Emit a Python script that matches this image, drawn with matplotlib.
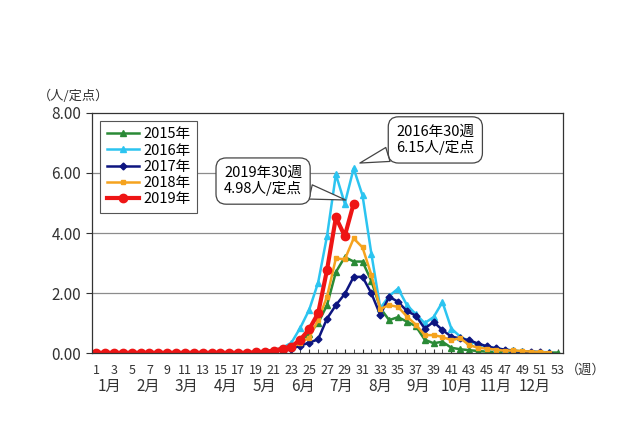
#%% libraries
import matplotlib
matplotlib.use("Agg")
import matplotlib.pyplot as plt
import matplotlib.transforms as mtransforms

plt.rcParams['font.family'] = ['Noto Sans CJK JP', 'DejaVu Sans']

#%% data (人/定点, weekly)
weeks = list(range(1, 54))
flat = [0.01] * 18

y2015 = flat + [0.02, 0.03, 0.05, 0.10, 0.20, 0.40, 0.65, 1.00, 1.60, 2.70,
                3.20, 3.05, 3.05, 2.40, 1.50, 1.10, 1.20, 1.05, 0.90, 0.45,
                0.33, 0.38, 0.18, 0.13, 0.10, 0.07, 0.05, 0.04, 0.03, 0.03,
                0.02, 0.02, 0.02, 0.02, 0.02]
y2016 = flat + [0.03, 0.05, 0.10, 0.18, 0.35, 0.85, 1.45, 2.35, 3.90, 5.95,
                4.98, 6.15, 5.25, 3.30, 1.50, 1.90, 2.15, 1.60, 1.30, 1.00,
                1.20, 1.70, 0.82, 0.55, 0.40, 0.30, 0.22, 0.16, 0.12, 0.09,
                0.06, 0.05, 0.04, 0.03]
y2017 = flat + [0.02, 0.03, 0.06, 0.10, 0.15, 0.25, 0.35, 0.46, 1.15, 1.60,
                1.97, 2.54, 2.54, 1.99, 1.27, 1.88, 1.71, 1.40, 1.25, 0.82,
                1.04, 0.77, 0.55, 0.49, 0.43, 0.32, 0.23, 0.16, 0.12, 0.08,
                0.04, 0.05, 0.03, 0.02]
y2018 = flat + [0.02, 0.04, 0.07, 0.12, 0.20, 0.34, 0.52, 1.10, 1.88, 3.16,
                3.12, 3.82, 3.52, 2.60, 1.47, 1.60, 1.54, 1.22, 0.95, 0.60,
                0.60, 0.54, 0.43, 0.50, 0.27, 0.18, 0.15, 0.12, 0.08, 0.09,
                0.07, 0.05, 0.04, 0.02]
y2019 = flat + [0.03, 0.05, 0.08, 0.15, 0.22, 0.45, 0.80, 1.33, 2.77, 4.52,
                3.90, 4.98]

months = ['1月', '2月', '3月', '4月', '5月', '6月',
          '7月', '8月', '9月', '10月', '11月', '12月']

#%% plot
fig = plt.figure(figsize=(6.4, 4.26), dpi=100)
ax = fig.add_axes([0.144, 0.171, 0.736, 0.564])

series = [
    ('2015年', y2015, '#2a8a36', '^', 4, 1.8),
    ('2016年', y2016, '#2cc4f0', '^', 4, 1.8),
    ('2017年', y2017, '#0d1580', 'D', 3.5, 1.8),
    ('2018年', y2018, '#f5a31e', 's', 3.5, 1.8),
    ('2019年', y2019, '#ee1515', 'o', 6, 3.0),
]
for name, vals, col, mk, ms, lw in series:
    ax.plot(weeks[:len(vals)], vals, color=col, marker=mk, markersize=ms,
            linewidth=lw, label=name)

ax.set_xlim(0.55, 53.6)
ax.set_ylim(0, 8)
ax.set_yticks([0, 2, 4, 6, 8])
ax.set_yticklabels(['0.00', '2.00', '4.00', '6.00', '8.00'], fontsize=11)
ax.tick_params(axis='y', direction='out', length=4, pad=4, colors='#333333')
ax.set_xticks(weeks[::2])
ax.set_xticklabels([str(w) for w in weeks[::2]], fontsize=9)
ax.set_xticks(weeks, minor=True)
ax.tick_params(axis='x', which='both', direction='in', length=3, pad=8,
               colors='#333333')
for yv in [2, 4, 6]:
    ax.axhline(yv, color='#8c8c8c', linewidth=0.9, zorder=0)
for sp in ax.spines.values():
    sp.set_color('#333333')
    sp.set_linewidth(0.9)

trans = mtransforms.blended_transform_factory(ax.transData, ax.transAxes)
for i, m in enumerate(months):
    ax.text(2.5 + 4.35 * i, -0.14, m, transform=trans, ha='center',
            va='center', fontsize=11, color='#333333')
ax.text(1.005, -0.072, '（週）', transform=ax.transAxes, ha='left', va='center',
        fontsize=9.5, color='#333333')
ax.text(-0.115, 1.07, '（人/定点）', transform=ax.transAxes, ha='left',
        va='center', fontsize=9.5, color='#333333')

leg = ax.legend(loc='upper left', bbox_to_anchor=(0.017, 0.967), fontsize=10.5,
                handlelength=2.2, handletextpad=0.3, labelspacing=0.15,
                borderpad=0.45, borderaxespad=0, fancybox=False, framealpha=1,
                edgecolor='#555555')
leg.get_frame().set_linewidth(0.8)

box = dict(boxstyle='round,pad=0.55,rounding_size=0.7', fc='white',
           ec='#444444', lw=0.9)
arrow = dict(arrowstyle='wedge,tail_width=1.0', fc='white', ec='#444444',
             lw=0.9, shrinkA=0, shrinkB=0)
ax.annotate('2019年30週\n4.98人/定点', xy=(29.1, 5.1), xytext=(19.8, 5.73),
            ha='center', va='center', fontsize=10.5, linespacing=1.1,
            bbox=box, zorder=5, arrowprops=arrow)
ax.annotate('2016年30週\n6.15人/定点', xy=(30.7, 6.33), xytext=(39.2, 7.1),
            ha='center', va='center', fontsize=10.5, linespacing=1.1,
            bbox=box, zorder=5, arrowprops=arrow)

fig.savefig('out.png', dpi=100)
